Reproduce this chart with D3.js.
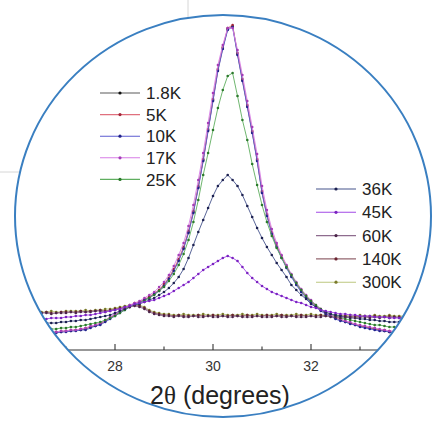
<!DOCTYPE html>
<html>
<head>
<meta charset="utf-8">
<script src="https://cdn.jsdelivr.net/npm/d3@7"></script>
<style>
  html, body { margin: 0; padding: 0; background: #fff; }
  svg { display: block; }
</style>
</head>
<body>
<svg id="chart" width="433" height="433"></svg>
<script>
// 2θ sampling: first angle and step (degrees)
const thetaStart = 26.4;
const thetaStep = 0.1;

// Diffracted intensity (arb. units) at each 2θ sample, one array per temperature
const i1p8K = [16,16,17,17,18,18,19,19,20,20,21,23,24,26,29,32,35,38,41,44,46,48,50,53,56,60,65,72,80,90,102,118,138,163,190,220,250,280,302,321,324,296,270,244,218,190,158,135,117,104,93,83,74,66,59,53,48,44,40,37,34,32,30,28,27,25,24,23,22,21,20,19,18,18,17,17,16,16,15];
const i5K   = [17,16,17,18,18,19,19,20,20,21,22,23,25,27,29,33,35,39,41,44,47,48,51,53,57,60,66,72,81,91,103,119,139,164,191,221,251,281,303,322,325,297,271,245,219,191,159,136,118,105,94,84,75,67,60,54,49,44,41,37,35,32,31,29,27,26,24,24,22,22,20,20,19,18,18,17,17,16,16];
const i10K  = [15,16,16,17,17,18,18,19,19,20,20,22,24,25,28,31,34,37,40,43,46,47,50,52,56,59,64,71,79,89,101,117,137,162,189,219,249,279,301,320,323,295,269,243,217,189,157,134,116,103,92,82,73,65,58,52,47,43,39,36,34,31,29,28,26,25,23,22,21,20,19,19,18,17,17,16,16,15,15];
const i17K  = [16,17,17,18,18,19,19,20,20,21,22,24,25,27,30,33,36,39,42,45,47,49,52,55,58,63,68,75,84,95,107,124,145,170,197,227,257,285,305,322,322,300,275,249,223,196,164,140,121,107,95,85,76,68,61,55,50,45,41,38,35,33,31,29,28,26,25,24,23,22,21,20,19,19,18,18,17,17,16];
const i25K  = [20,20,21,21,21,22,22,23,23,24,25,26,27,28,30,32,34,37,40,43,45,47,49,52,55,59,63,69,76,85,96,110,128,150,175,197,220,242,260,274,277,254,230,210,186,165,145,128,114,102,92,83,75,67,60,54,49,45,41,38,36,34,32,31,30,29,28,27,26,25,25,24,23,23,22,22,22,21,21];
const i36K  = [26,26,27,27,27,28,28,29,29,30,30,31,32,33,34,35,37,39,41,43,45,46,48,50,52,55,58,62,67,73,81,92,105,118,130,142,154,164,170,175,170,164,155,144,133,122,112,103,95,87,80,73,65,60,55,51,46,43,40,38,36,35,34,33,32,32,31,31,30,30,29,29,28,28,28,27,27,27,26];
const i45K  = [31,31,31,32,32,32,33,33,34,34,35,35,36,37,38,39,40,41,43,44,46,47,48,49,50,52,54,56,59,62,65,68,72,76,80,83,86,89,92,94,92,89,83,77,72,68,64,61,58,56,54,52,50,48,47,45,43,42,40,39,38,37,36,36,35,35,34,34,34,33,33,33,32,32,32,32,32,32,32];
const i60K  = [36,37,37,36,37,37,37,38,37,38,38,38,39,39,38,39,40,41,42,43,44,43,41,38,36,35,34,34,33,34,33,33,34,33,33,34,33,33,34,33,33,34,33,33,33,34,33,33,33,34,33,33,34,33,33,33,34,33,33,34,33,33,32,33,33,32,33,33,32,33,32,33,32,33,32,32,33,32,32];
const i140K = [37,37,38,37,37,38,38,38,38,39,38,39,39,40,39,40,41,42,43,44,45,44,42,39,37,36,35,35,34,35,34,34,34,35,34,34,35,34,34,34,35,34,34,35,34,34,34,35,34,34,35,34,34,34,35,34,34,34,35,34,34,33,34,34,33,34,33,34,33,34,33,33,34,33,33,33,33,34,33];
const i300K = [38,38,38,39,38,38,39,39,39,39,40,39,40,40,41,41,42,43,44,45,46,45,43,40,38,37,36,36,35,35,36,35,35,35,36,35,35,35,36,35,35,35,36,35,35,36,35,35,35,36,35,35,35,36,35,35,36,35,35,35,34,35,35,34,35,34,35,34,34,35,34,34,35,34,34,34,34,34,34];

const temperatures = ["1.8K","5K","10K","17K","25K","36K","45K","60K","140K","300K"];
const intensities  = [i1p8K, i5K, i10K, i17K, i25K, i36K, i45K, i60K, i140K, i300K];
const lineColors   = ["#5a5a5a","#e0707e","#5b5bd0","#d77de6","#5fae5f","#46548c","#a24ae6","#8e6c8e","#93666f","#bcc77f"];
const dotColors    = ["#111111","#a3263a","#22228a","#a53cb8","#2b7a2b","#1c2050","#7a22c0","#4a2448","#6a2430","#7a7a2a"];

// order in which the curves are stacked (bottom first)
const drawOrder = [9, 8, 0, 1, 2, 3, 4, 5, 7, 6];

const majorTicks = [28, 30, 32];
const minorTicks = [27, 29, 31, 33];
const xTitle = "(degrees)";

const svg = d3.select("#chart");

const frame = { cx: 223, cy: 216, rx: 208, ry: 201 };

const x = d3.scaleLinear().domain([26, 34]).range([17, 409]);
const y = d3.scaleLinear().domain([0, 335]).range([350, 15]);

// faint framing lines outside the lens
svg.append("line").attr("x1", 0).attr("x2", 21).attr("y1", 172).attr("y2", 172)
  .attr("stroke", "#d6d6d6").attr("stroke-width", 1);
svg.append("line").attr("x1", 188).attr("x2", 188).attr("y1", 0).attr("y2", 18)
  .attr("stroke", "#d6d6d6").attr("stroke-width", 1);

const defs = svg.append("defs");
defs.append("clipPath").attr("id", "lens")
  .append("ellipse")
  .attr("cx", frame.cx).attr("cy", frame.cy).attr("rx", frame.rx).attr("ry", frame.ry);

const plot = svg.append("g").attr("clip-path", "url(#lens)");

// bottom axis with inward ticks
const axisY = y(0);
const axis = plot.append("g").attr("transform", `translate(0,${axisY})`);
axis.append("line").attr("x1", x(26)).attr("x2", x(34)).attr("y1", 0).attr("y2", 0)
  .attr("stroke", "#333").attr("stroke-width", 1.2);
axis.selectAll(".maj").data(majorTicks).join("line")
  .attr("x1", d => x(d)).attr("x2", d => x(d)).attr("y1", 0).attr("y2", -6)
  .attr("stroke", "#333").attr("stroke-width", 1.1);
axis.selectAll(".min").data(minorTicks).join("line")
  .attr("x1", d => x(d)).attr("x2", d => x(d)).attr("y1", 0).attr("y2", -3.5)
  .attr("stroke", "#333").attr("stroke-width", 1.1);
axis.selectAll(".lab").data(majorTicks).join("text")
  .attr("x", d => x(d)).attr("y", 21)
  .attr("text-anchor", "middle")
  .attr("font-family", "Liberation Sans, Arial, sans-serif")
  .attr("font-size", 14).attr("fill", "#333")
  .text(d => d);

// series
const theta = i => thetaStart + i * thetaStep;
const line = d3.line().x((d, i) => x(theta(i))).y(d => y(d));

drawOrder.forEach(k => {
  const g = plot.append("g");
  g.append("path").datum(intensities[k])
    .attr("d", line).attr("fill", "none")
    .attr("stroke", lineColors[k]).attr("stroke-width", 0.9);
  g.selectAll("circle").data(intensities[k]).join("circle")
    .attr("cx", (d, i) => x(theta(i))).attr("cy", d => y(d))
    .attr("r", 1.3).attr("fill", dotColors[k]);
});

// legends
function legend(items, x0, y0, step) {
  items.forEach((k, j) => {
    const yy = y0 + j * step;
    const g = svg.append("g");
    g.append("line").attr("x1", x0).attr("x2", x0 + 40).attr("y1", yy).attr("y2", yy)
      .attr("stroke", lineColors[k]).attr("stroke-width", 1.1);
    g.append("circle").attr("cx", x0 + 20).attr("cy", yy).attr("r", 1.6).attr("fill", dotColors[k]);
    g.append("text").attr("x", x0 + 46).attr("y", yy).attr("dy", "0.36em")
      .attr("font-family", "Liberation Sans, Arial, sans-serif")
      .attr("font-size", 17).attr("fill", "#222")
      .text(temperatures[k]);
  });
}
legend([0, 1, 2, 3, 4], 100, 93, 21.6);
legend([5, 6, 7, 8, 9], 316, 189, 23.3);

// axis title
const title = svg.append("text")
  .attr("x", 220).attr("y", 404)
  .attr("text-anchor", "middle")
  .attr("font-family", "Liberation Sans, Arial, sans-serif")
  .attr("font-size", 25).attr("fill", "#222");
title.append("tspan").text("2");
title.append("tspan").attr("font-family", "Liberation Serif, Times New Roman, serif").text("θ");
title.append("tspan").text(" " + xTitle);

// lens outline
svg.append("ellipse")
  .attr("cx", frame.cx).attr("cy", frame.cy).attr("rx", frame.rx).attr("ry", frame.ry)
  .attr("fill", "none").attr("stroke", "#3a7fc1").attr("stroke-width", 2);
</script>
</body>
</html>
